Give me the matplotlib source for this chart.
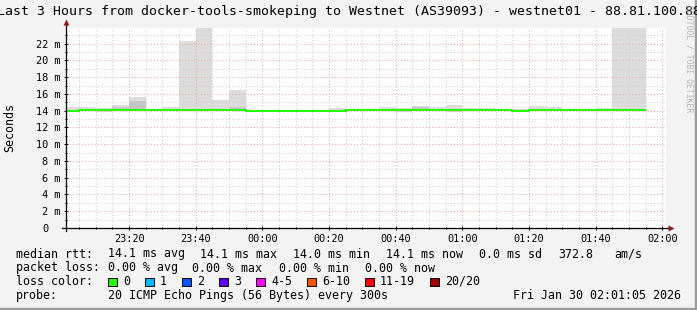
import matplotlib
matplotlib.use("Agg")
import matplotlib.pyplot as plt
from matplotlib.patches import Rectangle
from matplotlib.transforms import ScaledTranslation

plt.rcParams['font.family'] = ['DejaVu Sans Mono', 'DejaVu Sans']

# 5 minute bins, minutes after 23:00
bin_start = [0, 5, 10, 15, 20, 25, 30, 35, 40, 45, 50, 55, 60, 65, 70, 75, 80,
             85, 90, 95, 100, 105, 110, 115, 120, 125, 130, 135, 140, 145, 150,
             155, 160, 165, 170]
bin_width = 5

# median rtt per bin (ms)
median_ms = [13.97, 14.09, 14.09, 14.09, 14.09, 14.09, 14.09, 14.09, 14.09,
             14.09, 14.09, 14.01, 14.01, 14.01, 14.01, 14.01, 14.01, 14.12,
             14.12, 14.12, 14.12, 14.12, 14.12, 14.12, 14.12, 14.12, 14.12,
             13.95, 14.12, 14.12, 14.12, 14.12, 14.12, 14.12, 14.12]

# smoke: spread of the 20 pings per bin (ms)
smoke_hi = [14.45, 14.45, 14.37, 14.69, 15.64, 14.15, 14.45, 22.33, 26.0,
            15.25, 16.5, 14.05, 14.05, 14.05, 14.05, 14.1, 14.37, 14.2, 14.25,
            14.45, 14.37, 14.57, 14.45, 14.69, 14.37, 14.37, 14.2, 14.15,
            14.57, 14.45, 14.2, 14.2, 14.3, 26.0, 26.0]
smoke_lo = [13.85, 14.0, 13.89, 14.0, 14.0, 14.0, 14.0, 14.0, 14.0, 14.0,
            14.0, 13.95, 13.95, 13.95, 13.95, 13.95, 13.9, 14.05, 14.05,
            14.05, 13.9, 14.05, 14.05, 13.9, 14.05, 14.05, 14.05, 13.88,
            14.05, 14.05, 14.05, 14.05, 14.05, 14.05, 14.05]

# darker inner smoke where it shows
dark_bins = [3, 4, 10, 21]
dark_top = [14.45, 15.16, 14.4, 14.45]

tick_min = [20, 40, 60, 80, 100, 120, 140, 160, 180]
tick_labels = ['23:20', '23:40', '00:00', '00:20', '00:40', '01:00',
               '01:20', '01:40', '02:00']
y_ticks = [0, 2, 4, 6, 8, 10, 12, 14, 16, 18, 20, 22]
y_labels = ['0', '2 m', '4 m', '6 m', '8 m', '10 m', '12 m', '14 m',
            '16 m', '18 m', '20 m', '22 m']

loss_labels = ['0', '1', '2', '3', '4-5', '6-10', '11-19', '20/20']
loss_colors = ['#26ff00', '#00b8ff', '#0059ff', '#5e00ff', '#ff00ff',
               '#ff5500', '#ff0000', '#a00000']
loss_box_x = [108, 145, 182, 219, 256, 307, 365, 430]

W, H = 697, 310
BG = '#f3f3f3'

fig = plt.figure(figsize=(W / 100, H / 100), dpi=100, facecolor=BG)
ax = fig.add_axes([66 / W, (H - 228) / H, 600 / W, 200.5 / H])
ax.set_facecolor('white')

ax.bar(bin_start, [h - l for h, l in zip(smoke_hi, smoke_lo)], bottom=smoke_lo,
       width=bin_width, align='edge', color='#dcdcdc', linewidth=0, zorder=1)
ax.bar([bin_start[i] for i in dark_bins],
       [t - median_ms[i] for i, t in zip(dark_bins, dark_top)],
       bottom=[median_ms[i] for i in dark_bins],
       width=bin_width, align='edge', color='#c6c6c6', linewidth=0, zorder=1.2)
edges = bin_start + [bin_start[-1] + bin_width]
ax.stairs(median_ms, edges, baseline=None, color='#26ff00', linewidth=1.45,
          zorder=3)

ax.set_xlim(1.083, 181.083)
ax.set_ylim(0, 23.94)

ax.set_xticks(tick_min, labels=tick_labels)
ax.set_xticks(range(5, 185, 5), minor=True)
ax.set_yticks(y_ticks, labels=y_labels)
ax.set_yticks(range(1, 24), minor=True)

ax.set_axisbelow(False)
ax.grid(which='major', color='#f2a4a4', linestyle=(0, (1, 2)), linewidth=0.75)
ax.grid(which='minor', color='#cfcfcf', linestyle=(0, (1, 2)), linewidth=0.75)

for s in ax.spines.values():
    s.set_visible(False)
ax.tick_params(which='both', direction='inout', color='black', width=0.7,
               labelsize=7.35, pad=2.8)
ax.tick_params(which='major', length=3)
ax.tick_params(which='minor', length=2)

# the "0" label sits in the digit column, not flush right
zero_lab = ax.yaxis.get_major_ticks()[0].label1
zero_lab.set_transform(zero_lab.get_transform() +
                       ScaledTranslation(-0.12, 0, fig.dpi_scale_trans))

# axes with arrows
ax.plot([-0.007, 1.004], [0, 0], color='black', lw=0.9, transform=ax.transAxes,
        clip_on=False, zorder=4)
ax.plot([0, 0], [-0.015, 1.02], color='black', lw=0.9, transform=ax.transAxes,
        clip_on=False, zorder=4)
ax.plot([1.008], [0], marker='>', ms=4.5, color='#8b1a1a', mec='none',
        transform=ax.transAxes, clip_on=False, zorder=5)
ax.plot([0], [1.025], marker='^', ms=4.5, color='#8b1a1a', mec='none',
        transform=ax.transAxes, clip_on=False, zorder=5)

def px(x, y):
    return x / W, 1 - y / H

fig.text(*px(349, 12), 'Last 3 Hours from docker-tools-smokeping to Westnet '
         '(AS39093) - westnet01 - 88.81.100.88', ha='center', va='center',
         fontsize=9.55)
fig.text(*px(10, 128), 'Seconds', rotation=90, ha='center', va='center',
         fontsize=8.4)
fig.text(*px(689, 5), 'RRDTOOL / TOBI OETIKER', rotation=270, ha='center',
         va='top', fontsize=5.9, color='#b4b4b4')

fs = 8.4
rows = [
    (254, [(16, 'median rtt:'), (108, '14.1 ms avg'), (200, '14.1 ms max'),
           (293, '14.0 ms min'), (386, '14.1 ms now'), (479, '0.0 ms sd'),
           (558, '372.8'), (614, 'am/s')]),
    (268, [(16, 'packet loss:'), (107.5, '0.00 % avg'), (192.5, '0.00 % max'),
           (279, '0.00 % min'), (365, '0.00 % now')]),
    (281.5, [(16, 'loss color:')]),
    (295.5, [(16, 'probe:'), (108, '20 ICMP Echo Pings (56 Bytes) every 300s')]),
]
for y, items in rows:
    for x, s in items:
        fig.text(*px(x, y), s, ha='left', va='center', fontsize=fs)
fig.text(*px(681, 295.5), 'Fri Jan 30 02:01:05 2026', ha='right', va='center',
         fontsize=fs)

for bx, c, lab in zip(loss_box_x, loss_colors, loss_labels):
    fig.add_artist(Rectangle(px(bx, 286), 8.5 / W, 8.5 / H, facecolor=c,
                             edgecolor='black', linewidth=0.7,
                             transform=fig.transFigure))
    fig.text(*px(bx + 15, 281.5), lab, ha='left', va='center', fontsize=fs)

# 3d-ish border
fig.add_artist(Rectangle((0, 0), 1, 2 / H, color='#9c9c9c',
                         transform=fig.transFigure))
fig.add_artist(Rectangle((1 - 2 / W, 0), 2 / W, 1, color='#9c9c9c',
                         transform=fig.transFigure))

fig.savefig('out.png', dpi=100, facecolor=BG)
